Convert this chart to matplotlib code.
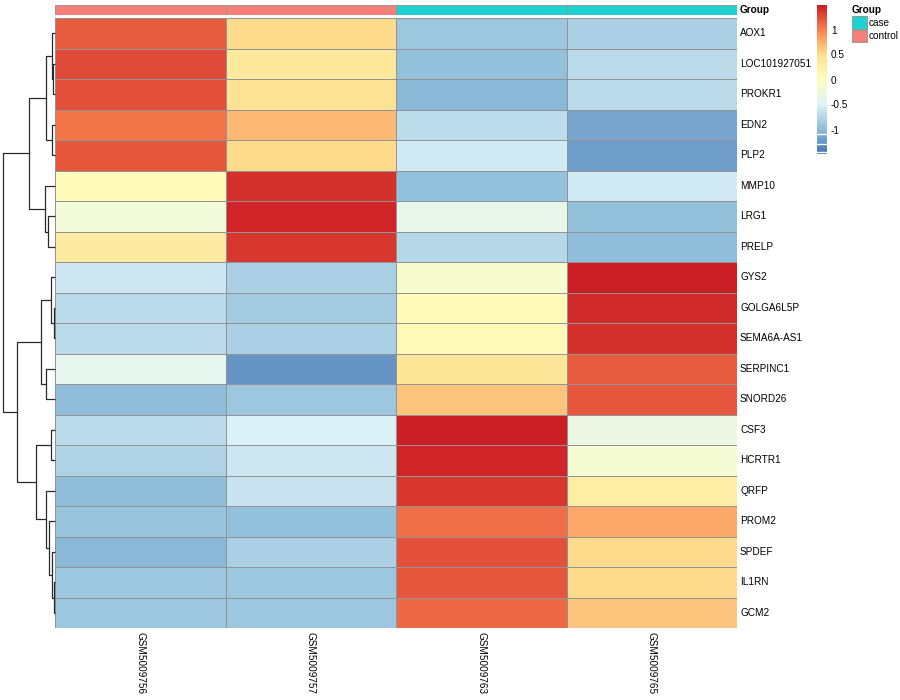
import numpy as np
import matplotlib
matplotlib.use("Agg")
import matplotlib.pyplot as plt
from matplotlib.colors import LinearSegmentedColormap
from matplotlib.patches import Rectangle
import matplotlib.transforms as mtrans

plt.rcParams['font.family'] = ['Liberation Sans', 'DejaVu Sans']

# ---------------- data ----------------
genes = ["AOX1", "LOC101927051", "PROKR1", "EDN2", "PLP2", "MMP10", "LRG1", "PRELP",
         "GYS2", "GOLGA6L5P", "SEMA6A-AS1", "SERPINC1", "SNORD26", "CSF3", "HCRTR1",
         "QRFP", "PROM2", "SPDEF", "IL1RN", "GCM2"]
samples = ["GSM5009756", "GSM5009757", "GSM5009763", "GSM5009765"]
groups = ["control", "control", "case", "case"]

# row z-scores, one list per sample (column)
GSM5009756 = [1.20, 1.30, 1.25, 1.07, 1.22, 0.05, -0.20, 0.32, -0.60, -0.70,
              -0.72, -0.37, -0.98, -0.70, -0.77, -0.97, -0.93, -1.00, -0.90, -0.90]
GSM5009757 = [0.55, 0.40, 0.48, 0.72, 0.55, 1.42, 1.48, 1.38, -0.80, -0.85,
              -0.80, -1.25, -0.90, -0.50, -0.58, -0.63, -0.95, -0.80, -0.88, -0.90]
GSM5009763 = [-0.90, -0.95, -1.00, -0.67, -0.55, -0.95, -0.35, -0.75, -0.10, 0.10,
              0.10, 0.43, 0.65, 1.50, 1.48, 1.38, 1.10, 1.25, 1.22, 1.15]
GSM5009765 = [-0.80, -0.70, -0.70, -1.12, -1.20, -0.55, -0.95, -0.97, 1.50, 1.45,
              1.42, 1.19, 1.23, -0.30, -0.15, 0.30, 0.80, 0.55, 0.55, 0.65]

# row dendrogram: (left, right, merge height); ints are row indices
row_tree = (
    (((0, (1, 2, 1.7), 3.3), (3, 4, 3.5), 9.3), (5, (6, 7, 6.7), 10.0), 26.5),
    (((8, (9, 10, 0.7), 4.0), (11, 12, 9.3), 14.0),
     ((13, 14, 4.0), (15, (16, (17, (18, 19, 1.5), 3.3), 6.0), 9.3), 19.3), 38.3),
    52.3)

group_colors = {"case": "#1FD2D2", "control": "#F77F77"}
legend_ticks = [1, 0.5, 0, -0.5, -1]
vmin, vmax = -1.47, 1.51

# ---------------- setup ----------------
W, H = 900, 700
fig = plt.figure(figsize=(W / 100, H / 100), dpi=100)


def pax(x0, y0, x1, y1):
    return fig.add_axes([x0 / W, 1 - y1 / H, (x1 - x0) / W, (y1 - y0) / H])


cmap = LinearSegmentedColormap.from_list(
    "rdylbu_r", ["#4575B4", "#91BFDB", "#E0F3F8", "#FFFFBF", "#FEE090", "#F98450", "#CC1E25"], N=100)

mat = np.column_stack([GSM5009756, GSM5009757, GSM5009763, GSM5009765])
nr, nc = mat.shape
border = "#939393"
blw = 0.65
fs = 7.2

# heatmap
HX0, HX1, HY0, HY1 = 55, 737, 18, 628
ax = pax(HX0, HY0, HX1, HY1)
ax.pcolormesh(np.arange(nc + 1), np.arange(nr + 1), mat, cmap=cmap, vmin=vmin, vmax=vmax,
              edgecolors=border, linewidth=blw)
ax.set_xlim(0, nc)
ax.set_ylim(nr, 0)
ax.axis("off")
ytr = ax.get_yaxis_transform()
for i, g in enumerate(genes):
    ax.text(1.0045, i + 0.5, g, transform=ytr, va="center", ha="left", fontsize=fs)
xtr = ax.get_xaxis_transform()
for j, s in enumerate(samples):
    ax.text(j + 0.5, -0.007, s, transform=xtr, va="top", ha="center", rotation=270, fontsize=fs)

# annotation bar
axa = pax(HX0, 5, HX1, 15)
for j, g in enumerate(groups):
    axa.add_patch(Rectangle((j, 0), 1, 1, facecolor=group_colors[g], edgecolor=border, lw=blw))
axa.set_xlim(0, nc)
axa.set_ylim(0, 1)
axa.axis("off")
axa.text(1.0045, 0.5, "Group", transform=axa.transAxes, va="center", ha="left",
         fontsize=fs, fontweight="bold")

# dendrogram
axd = pax(0, HY0, HX0, HY1)
axd.set_xlim(55, 0)
axd.set_ylim(nr, 0)
axd.axis("off")


def draw(node):
    if isinstance(node, int):
        return node + 0.5, 0.0
    l, r, h = node
    yl, hl = draw(l)
    yr, hr = draw(r)
    axd.plot([hl, h, h, hr], [yl, yl, yr, yr], color="#2a2a2a", lw=0.9,
             solid_capstyle="butt", clip_on=False)
    return (yl + yr) / 2, h


draw(row_tree)

# color legend
axc = pax(817, 5, 827, 154)
grad = np.linspace(vmin, vmax, 100).reshape(-1, 1)
axc.imshow(grad, cmap=cmap, vmin=vmin, vmax=vmax, aspect="auto", origin="lower",
           extent=(0, 1, vmin, vmax), interpolation="nearest")
for v in [-1.07, -1.27, -1.43]:
    axc.axhline(v, color="white", lw=1.0)
axc.set_xlim(0, 1)
axc.set_ylim(vmin, vmax)
axc.axis("off")
ctr = mtrans.blended_transform_factory(axc.transAxes, axc.transData)
for t in legend_ticks:
    axc.text(1.4, t, f"{t:g}", transform=ctr, va="center", ha="left", fontsize=fs)

# group legend
axl = fig.add_axes([0, 0, 1, 1], facecolor="none")
axl.set_xlim(0, W)
axl.set_ylim(H, 0)
axl.axis("off")
axl.text(852, 10, "Group", fontsize=fs, fontweight="bold", va="center", ha="left")
for k, g in enumerate(["case", "control"]):
    y0 = 16 + k * 13.5
    axl.add_patch(Rectangle((852, y0), 15, 12.5, facecolor=group_colors[g], edgecolor=border, lw=blw))
    axl.text(869, y0 + 6.5, g, fontsize=fs, va="center", ha="left")

fig.savefig("out.png", dpi=100)
